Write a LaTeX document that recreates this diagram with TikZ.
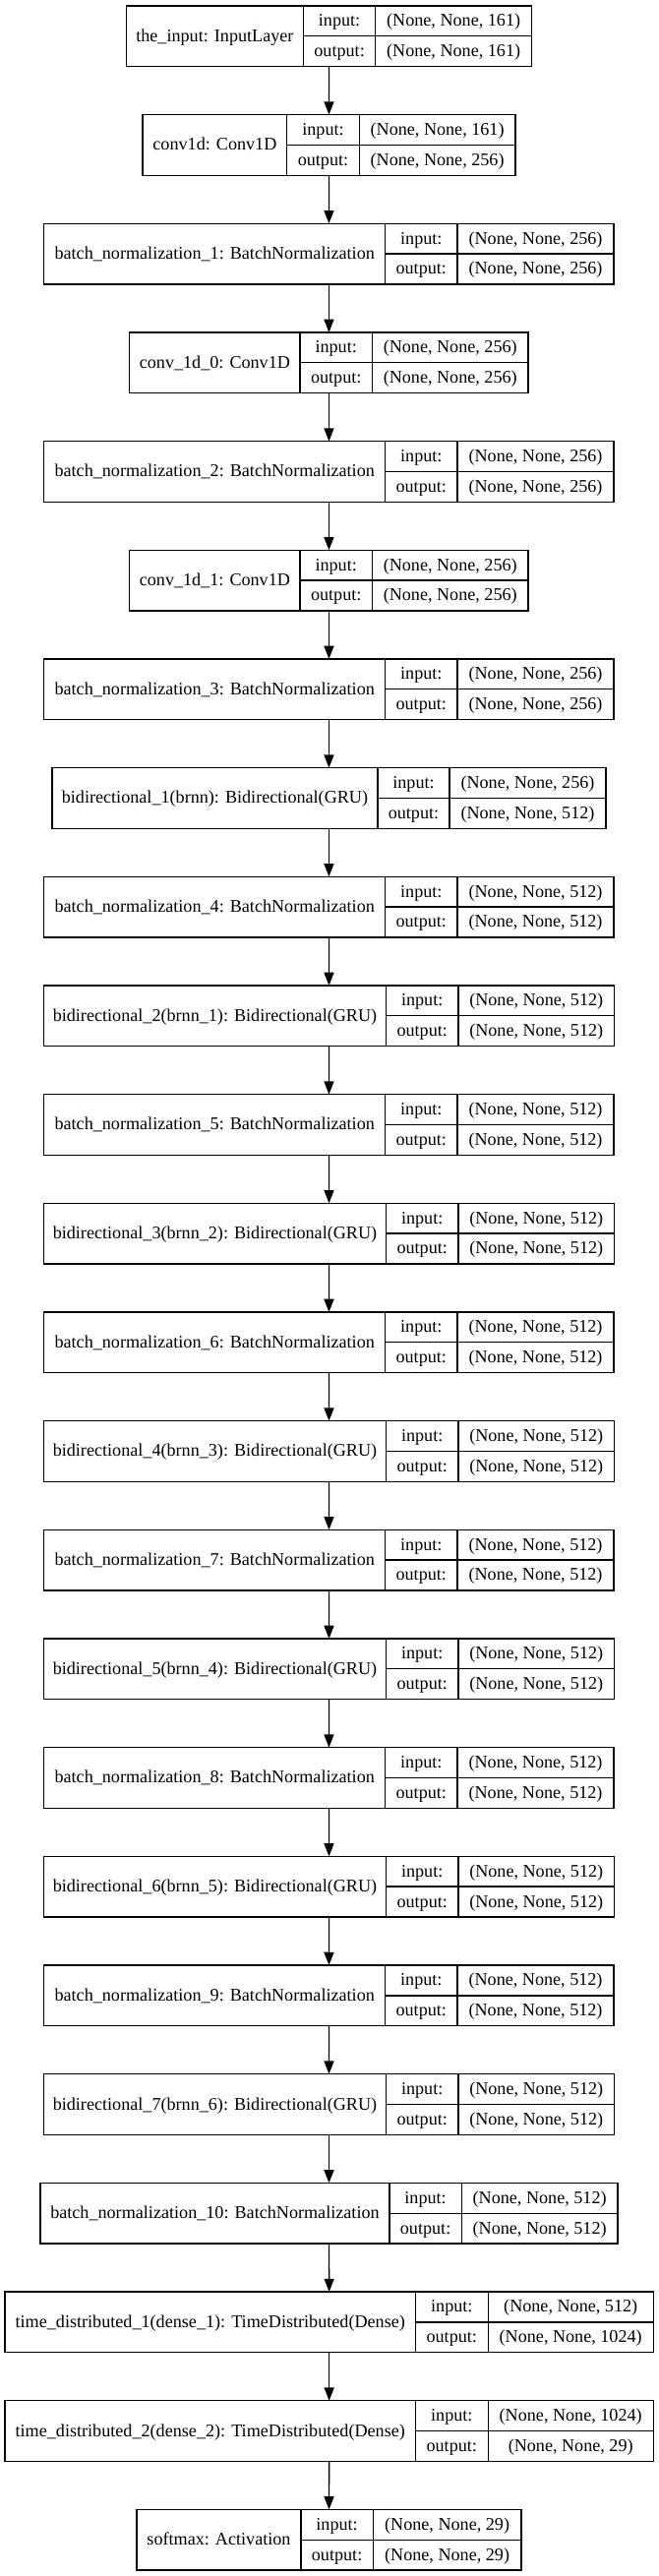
\documentclass[tikz,border=0pt]{standalone}
\usepackage{fontspec}
\setmainfont{Liberation Serif}
\usetikzlibrary{arrows.meta}
\tikzset{
  box/.style={draw=black, line width=1pt, inner sep=0pt, outer sep=0pt, rectangle},
  cell/.style={draw=black, line width=1pt},
  txt/.style={anchor=base, inner sep=0pt, outer sep=0pt, font=\fontsize{13.6}{16}\selectfont},
  arr/.style={draw=black, line width=1pt, -{Triangle[length=10pt,width=7.5pt]}}
}
\newcommand{\layer}[9]{%
  \pgfmathsetmacro{\yt}{6+#2*110.67}%
  \pgfmathsetmacro{\yb}{\yt+61.5}%
  \pgfmathsetmacro{\ym}{\yt+30.75}%
  \node[box, minimum width={(#6-#3)*0.75pt}, minimum height={61.5*0.75pt}] (#1) at ({(#3+#6)/2},\ym) {};
  \draw[cell] (#4,\yt) -- (#4,\yb);
  \draw[cell] (#5,\yt) -- (#5,\yb);
  \draw[cell] (#4,\ym) -- (#6,\ym);
  \node[txt] (#1-name) at ({(#3+#4)/2},{\ym+5.5}) {#7};
  \node[txt] (#1-il) at ({(#4+#5)/2},{\yt+15.4+5.5}) {input:};
  \node[txt] (#1-ol) at ({(#4+#5)/2},{\yt+46.1+5.5}) {output:};
  \node[txt] (#1-iv) at ({(#5+#6)/2},{\yt+15.4+5.5}) {#8};
  \node[txt] (#1-ov) at ({(#5+#6)/2},{\yt+46.1+5.5}) {#9};
}
\begin{document}
\begin{tikzpicture}[x=0.75pt, y=-0.75pt]
\useasboundingbox (0,0) rectangle (669,2619);
\layer{l0}{0}{128.4}{308.4}{381.8}{540.5}{the\_input: InputLayer}{(None, None, 161)}{(None, None, 161)}
\layer{l1}{1}{145}{291.8}{365.2}{524}{conv1d: Conv1D}{(None, None, 161)}{(None, None, 256)}
\layer{l2}{2}{44.8}{391.6}{465}{624.1}{batch\_normalization\_1: BatchNormalization}{(None, None, 256)}{(None, None, 256)}
\layer{l3}{3}{131.8}{305}{378.4}{537.1}{conv\_1d\_0: Conv1D}{(None, None, 256)}{(None, None, 256)}
\layer{l4}{4}{44.8}{391.6}{465}{624.1}{batch\_normalization\_2: BatchNormalization}{(None, None, 256)}{(None, None, 256)}
\layer{l5}{5}{131.8}{305}{378.4}{537.1}{conv\_1d\_1: Conv1D}{(None, None, 256)}{(None, None, 256)}
\layer{l6}{6}{44.8}{391.6}{465}{624.1}{batch\_normalization\_3: BatchNormalization}{(None, None, 256)}{(None, None, 256)}
\layer{l7}{7}{52.9}{384}{457}{616}{bidirectional\_1(brnn): Bidirectional(GRU)}{(None, None, 256)}{(None, None, 512)}
\layer{l8}{8}{44.8}{391.6}{465}{624.1}{batch\_normalization\_4: BatchNormalization}{(None, None, 512)}{(None, None, 512)}
\layer{l9}{9}{44.4}{392.5}{465.9}{624.6}{bidirectional\_2(brnn\_1): Bidirectional(GRU)}{(None, None, 512)}{(None, None, 512)}
\layer{l10}{10}{44.8}{391.6}{465}{624.1}{batch\_normalization\_5: BatchNormalization}{(None, None, 512)}{(None, None, 512)}
\layer{l11}{11}{44.4}{392.5}{465.9}{624.6}{bidirectional\_3(brnn\_2): Bidirectional(GRU)}{(None, None, 512)}{(None, None, 512)}
\layer{l12}{12}{44.8}{391.6}{465}{624.1}{batch\_normalization\_6: BatchNormalization}{(None, None, 512)}{(None, None, 512)}
\layer{l13}{13}{44.4}{392.5}{465.9}{624.6}{bidirectional\_4(brnn\_3): Bidirectional(GRU)}{(None, None, 512)}{(None, None, 512)}
\layer{l14}{14}{44.8}{391.6}{465}{624.1}{batch\_normalization\_7: BatchNormalization}{(None, None, 512)}{(None, None, 512)}
\layer{l15}{15}{44.4}{392.5}{465.9}{624.6}{bidirectional\_5(brnn\_4): Bidirectional(GRU)}{(None, None, 512)}{(None, None, 512)}
\layer{l16}{16}{44.8}{391.6}{465}{624.1}{batch\_normalization\_8: BatchNormalization}{(None, None, 512)}{(None, None, 512)}
\layer{l17}{17}{44.4}{392.5}{465.9}{624.6}{bidirectional\_6(brnn\_5): Bidirectional(GRU)}{(None, None, 512)}{(None, None, 512)}
\layer{l18}{18}{44.8}{391.6}{465}{624.1}{batch\_normalization\_9: BatchNormalization}{(None, None, 512)}{(None, None, 512)}
\layer{l19}{19}{44.4}{392.5}{465.9}{624.6}{bidirectional\_7(brnn\_6): Bidirectional(GRU)}{(None, None, 512)}{(None, None, 512)}
\layer{l20}{20}{41}{395.9}{469.3}{628}{batch\_normalization\_10: BatchNormalization}{(None, None, 512)}{(None, None, 512)}
\layer{l21}{21}{5.1}{422.4}{496.2}{664.2}{time\_distributed\_1(dense\_1): TimeDistributed(Dense)}{(None, None, 512)}{(None, None, 1024)}
\layer{l22}{22}{5.1}{422.4}{496.2}{664.2}{time\_distributed\_2(dense\_2): TimeDistributed(Dense)}{(None, None, 1024)}{(None, None, 29)}
\layer{l23}{23}{139.1}{305.9}{379.3}{529.9}{softmax: Activation}{(None, None, 29)}{(None, None, 29)}
\foreach \a/\b in {0/1,1/2,2/3,3/4,4/5,5/6,6/7,7/8,8/9,9/10,10/11,11/12,12/13,13/14,14/15,15/16,16/17,17/18,18/19,19/20,20/21,21/22,22/23}
  \draw[arr] (l\a.south) -- (l\b.north);
\end{tikzpicture}
\end{document}
